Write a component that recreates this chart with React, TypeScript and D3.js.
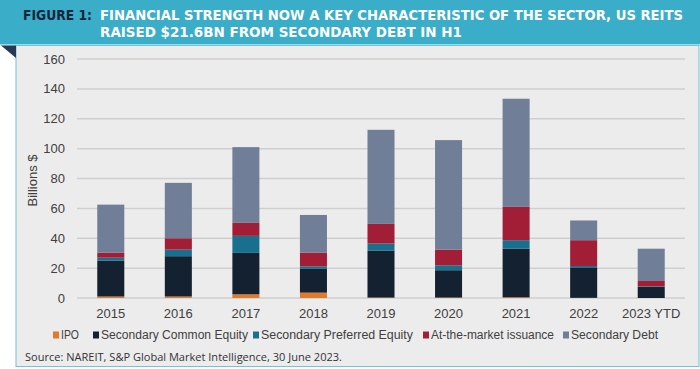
import React from "react"
import * as d3 from "d3"

// values, billions $
const years = ["2015", "2016", "2017", "2018", "2019", "2020", "2021", "2022", "2023 YTD"]
const ipo = [1.0, 1.0, 2.5, 3.6, 0.3, 0.3, 0.5, 0.1, 0.0]
const commonEquity = [24.0, 27.0, 27.7, 15.9, 31.5, 18.3, 32.6, 20.0, 7.4]
const preferredEquity = [2.0, 4.4, 11.4, 1.7, 4.7, 3.3, 5.6, 1.3, 0.4]
const atTheMarket = [3.3, 7.6, 8.7, 9.2, 13.1, 10.5, 22.3, 17.3, 3.6]
const secondaryDebt = [32.2, 37.1, 50.7, 25.2, 63.0, 73.3, 72.4, 13.2, 21.6]
const yTicks = [0, 20, 40, 60, 80, 100, 120, 140, 160]

const seriesNames = ["IPO", "Secondary Common Equity", "Secondary Preferred Equity", "At-the-market issuance", "Secondary Debt"]
const seriesColors = ["#e2792b", "#142130", "#18708e", "#a21d36", "#717e98"]

const W = 700
const H = 369
const margin = { top: 59, right: 15, bottom: 71, left: 77 }

const App = () => {
  const rows = years.map((y, i) => ({
    year: y,
    s0: ipo[i],
    s1: commonEquity[i],
    s2: preferredEquity[i],
    s3: atTheMarket[i],
    s4: secondaryDebt[i],
  }))
  const keys = ["s0", "s1", "s2", "s3", "s4"]
  const stacked = d3.stack<any>().keys(keys)(rows)

  const x = d3
    .scaleBand()
    .domain(years)
    .range([margin.left, W - margin.right])
    .paddingInner(0.6)
    .paddingOuter(0.3)

  const y = d3
    .scaleLinear()
    .domain([0, 160])
    .range([H - margin.bottom, margin.top])

  const font = "'Liberation Sans', Arial, sans-serif"
  // legend layout (swatch x, label width) measured on the reference
  const legendX = [53, 93, 253, 423, 563]
  const legendW = [18, 147, 152, 123, 87]

  return (
    <svg width={W} height={H} style={{ position: "absolute", left: 0, top: 0 }}>
      <rect x={0} y={0} width={W} height={H} fill="#ffffff" />
      {/* header */}
      <rect x={0} y={0} width={W} height={44} fill="#3aadc8" />
      <rect x={0} y={44} width={W} height={1.5} fill="#9fd8e6" />
      <text x={23} y={19.5} fontFamily="'DejaVu Sans', sans-serif" fontWeight="bold" fontSize={13.5}
        fill="#17253a" textLength={69} lengthAdjust="spacingAndGlyphs">FIGURE 1:</text>
      <text x={100} y={19.5} fontFamily="'DejaVu Sans Condensed', 'DejaVu Sans', sans-serif" fontWeight="bold"
        fontSize={14} fill="#ffffff" textLength={583} lengthAdjust="spacingAndGlyphs">
        FINANCIAL STRENGTH NOW A KEY CHARACTERISTIC OF THE SECTOR, US REITS
      </text>
      <text x={100} y={36.7} fontFamily="'DejaVu Sans Condensed', 'DejaVu Sans', sans-serif" fontWeight="bold"
        fontSize={14} fill="#ffffff" textLength={362} lengthAdjust="spacingAndGlyphs">
        RAISED $21.6BN FROM SECONDARY DEBT IN H1
      </text>

      {/* panel */}
      <rect x={16} y={45.5} width={W - 17} height={321} fill="#ececec" stroke="#6fc4d7" strokeWidth={1} />
      <path d="M1,45.5 L16,45.5 L16,58 Z" fill="#243a55" />

      {/* grid + y ticks */}
      {yTicks.map((t) => (
        <g key={t}>
          <line x1={margin.left} x2={W - margin.right} y1={y(t)} y2={y(t)} stroke="#cfcfcf" strokeWidth={1.5} />
          <text x={65} y={y(t)} dy="0.35em" textAnchor="end" fontFamily={font} fontSize={13} fill="#404040">
            {t}
          </text>
        </g>
      ))}
      <text transform={`translate(32,${(y(0) + y(160)) / 2 + 2}) rotate(-90)`} textAnchor="middle"
        dy="0.35em" fontFamily={font} fontSize={13} fill="#404040">Billions $</text>

      {/* bars */}
      {stacked.map((layer, li) => (
        <g key={layer.key} fill={seriesColors[li]}>
          {layer.map((d: any) => (
            <rect key={d.data.year} x={x(d.data.year)} width={x.bandwidth()}
              y={y(d[1])} height={Math.max(0, y(d[0]) - y(d[1]))} />
          ))}
        </g>
      ))}

      {/* x labels */}
      {years.map((yr) => (
        <text key={yr} x={(x(yr) as number) + x.bandwidth() / 2} y={313} dy="0.35em" textAnchor="middle"
          fontFamily={font} fontSize={13} fill="#404040">{yr}</text>
      ))}

      {/* legend */}
      {seriesNames.map((n, i) => (
        <g key={n}>
          <rect x={legendX[i]} y={331.5} width={6} height={7} fill={seriesColors[i]} />
          <text x={legendX[i] + 8} y={335} dy="0.35em" fontFamily={font} fontSize={12.5} fill="#404040"
            textLength={legendW[i]} lengthAdjust="spacingAndGlyphs">{n}</text>
        </g>
      ))}

      <text x={25} y={357} dy="0.35em" fontFamily="'Open Sans', sans-serif" fontSize={11} fill="#333"
        textLength={317} lengthAdjust="spacingAndGlyphs">
        Source: NAREIT, S&amp;P Global Market Intelligence, 30 June 2023.
      </text>
    </svg>
  )
}

export default App
